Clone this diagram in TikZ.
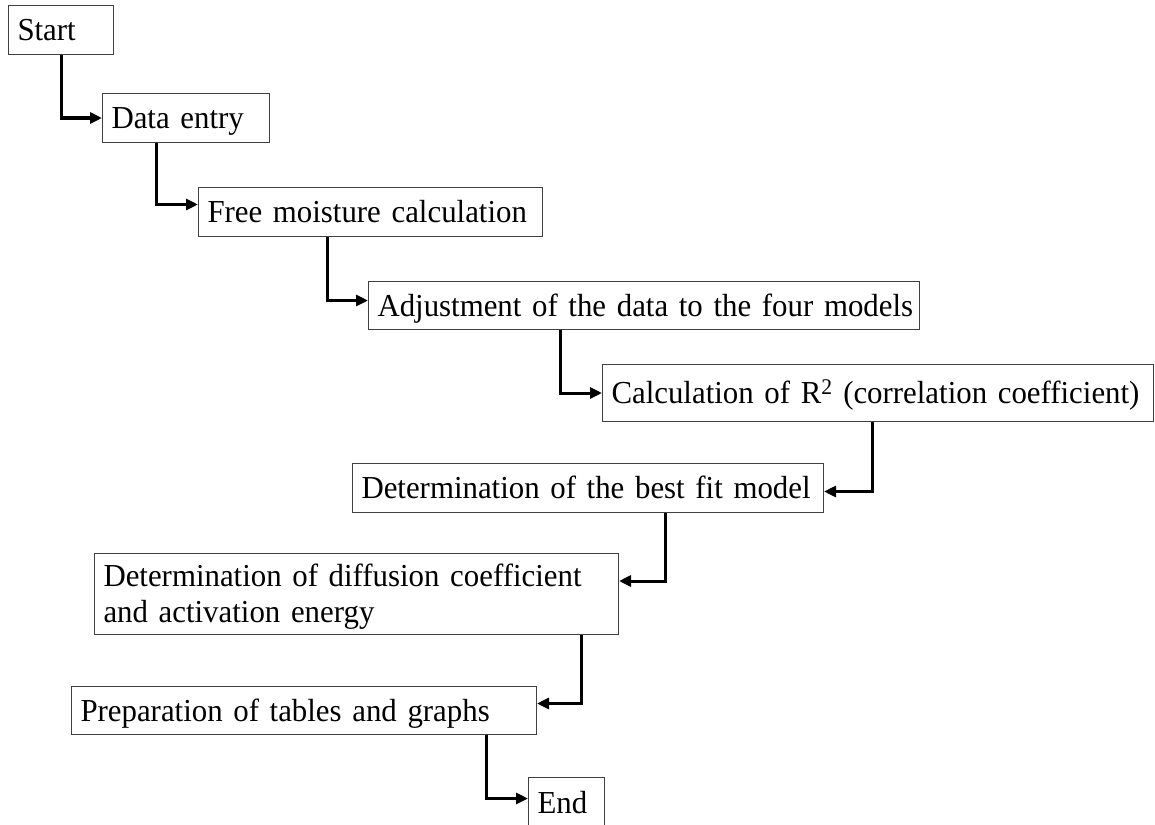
\documentclass[tikz,border=0pt]{standalone}
\usepackage{fontspec}
\setmainfont{Liberation Serif}[FakeStretch=0.964]
\usetikzlibrary{arrows.meta}
\begin{document}
\begin{tikzpicture}[x=1pt,y=-1pt,
  box/.style={draw=black!75, line width=1pt, anchor=north west, inner xsep=9pt, inner ysep=0pt,
    align=left, text height=21pt, text depth=0pt,
    font=\fontsize{32}{36}\selectfont},
  conn/.style={line width=3pt, -{Triangle[length=12pt,width=11pt]}}
]
\useasboundingbox (0,0) rectangle (1155,824);
\node[box, text width=87pt, minimum height=49pt] (start) at (8,5) {\mbox{Start}};
\node[box, text width=149pt, minimum height=49pt] (data) at (102,93) {\mbox{Data entry}};
\node[box, text width=326pt, minimum height=49pt] (free) at (198,187) {\mbox{Free moisture calculation}};
\node[box, text width=533pt, minimum height=48pt] (adj) at (368,281) {\mbox{Adjustment of the data to the four models}};
\node[box, text width=533pt, minimum height=57pt] (calc) at (602,364) {\mbox{Calculation of R\textsuperscript{2} (correlation coefficient)}};
\node[box, text width=453pt, minimum height=49pt] (best) at (352,463) {\mbox{Determination of the best fit model}};
\node[box, text width=506pt, minimum height=81pt, text depth=36pt] (diff) at (94,553) {Determination of diffusion coefficient\\and activation energy};
\node[box, text width=447pt, minimum height=48pt] (prep) at (71,686) {\mbox{Preparation of tables and graphs}};
\node[box, text width=58pt, minimum height=50pt] (finish) at (528,777) {\mbox{End}};

\draw[conn] ([xshift=53pt]start.south west) |- (data.west);
\draw[conn] ([xshift=54pt]data.south west) |- ([yshift=7.5pt]free.west);
\draw[conn] ([xshift=129pt]free.south west) |- ([yshift=5pt]adj.west);
\draw[conn] ([xshift=192pt]adj.south west) |- (calc.west);
\draw[conn] ([xshift=270pt]calc.south west) |- ([yshift=-3.5pt]best.east);
\draw[conn] ([xshift=313pt]best.south west) |- ([yshift=13pt]diff.east);
\draw[conn] ([xshift=487pt]diff.south west) |- ([yshift=7pt]prep.east);
\draw[conn] ([xshift=415pt]prep.south west) |- ([yshift=4pt]finish.west);
\end{tikzpicture}
\end{document}
